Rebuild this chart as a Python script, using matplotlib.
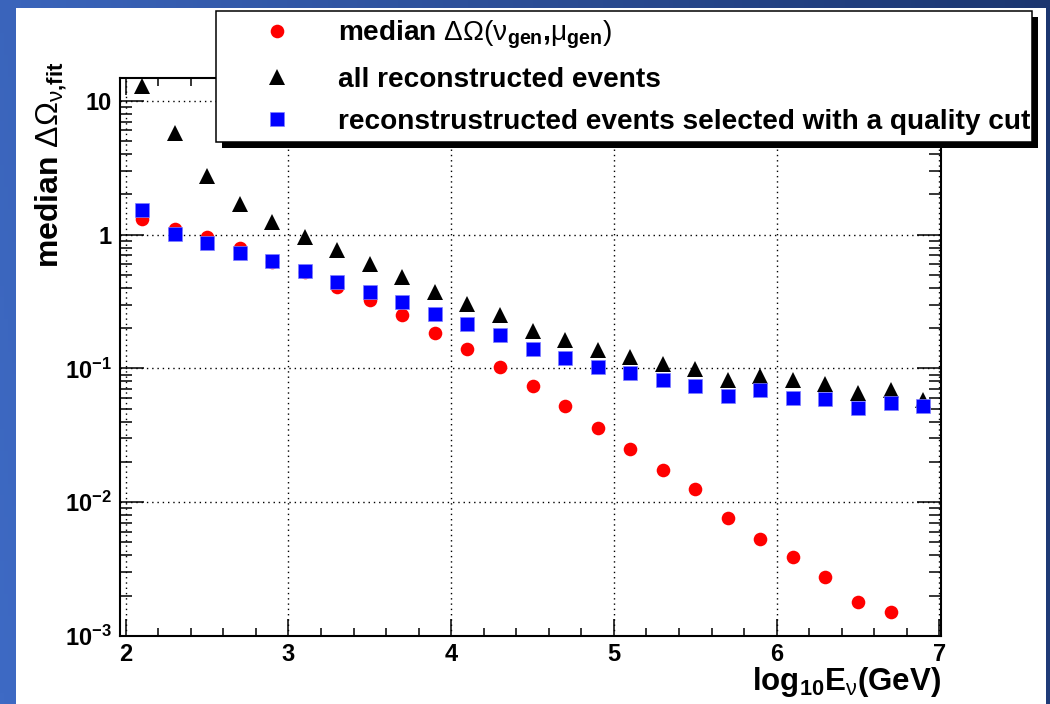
import numpy as np
import matplotlib
matplotlib.use('Agg')
import matplotlib.pyplot as plt
from matplotlib.patches import Rectangle
from matplotlib.ticker import FixedLocator, FixedFormatter, MultipleLocator, LogLocator, NullFormatter
from matplotlib.transforms import IdentityTransform

plt.rcParams['font.family'] = ['Liberation Sans', 'DejaVu Sans']
plt.rcParams['font.weight'] = 'bold'
plt.rcParams['axes.labelweight'] = 'bold'
plt.rcParams['mathtext.fontset'] = 'custom'
plt.rcParams['mathtext.rm'] = 'Liberation Sans:weight=normal'
plt.rcParams['mathtext.bf'] = 'Liberation Sans:weight=bold'
plt.rcParams['mathtext.it'] = 'Liberation Sans:italic:weight=normal'
plt.rcParams['mathtext.default'] = 'bf'

# ---------------- data ----------------
log_energy = [2.1, 2.3, 2.5, 2.7, 2.9, 3.1, 3.3, 3.5, 3.7, 3.9, 4.1, 4.3, 4.5,
              4.7, 4.9, 5.1, 5.3, 5.5, 5.7, 5.9, 6.1, 6.3, 6.5, 6.7, 6.9]

median_gen = [1.31, 1.10, 0.958, 0.793, 0.623, 0.524, 0.405, 0.324, 0.250, 0.184,
              0.140, 0.102, 0.0736, 0.0524, 0.0357, 0.0249, 0.0173, 0.01256,
              0.00758, 0.00528, 0.00387, 0.00274, 0.00179, 0.00151]

all_reco = [12.9, 5.77, 2.74, 1.69, 1.25, 0.963, 0.766, 0.602, 0.481, 0.373,
            0.302, 0.250, 0.190, 0.1625, 0.137, 0.122, 0.1075, 0.0986, 0.0816,
            0.0874, 0.0816, 0.0762, 0.0656, 0.0687, 0.0578]

quality_cut = [1.52, 1.01, 0.864, 0.727, 0.634, 0.533, 0.441, 0.371, 0.313, 0.254,
               0.214, 0.177, 0.139, 0.119, 0.102, 0.092, 0.0816, 0.0736, 0.062,
               0.069, 0.0599, 0.0589, 0.0507, 0.0552, 0.0522]

x_ticks = [2, 3, 4, 5, 6, 7]
x_ticklabels = ['2', '3', '4', '5', '6', '7']
y_ticks = [1e-3, 1e-2, 1e-1, 1, 10]
y_ticklabels = [r'$10^{-3}$', r'$10^{-2}$', r'$10^{-1}$', '1', '10']

labels = [r'median $\mathrm{\Delta\Omega(\nu}_{\mathbf{gen}}{,}\mathrm{\mu}_{\mathbf{gen}}\mathrm{)}$',
          'all reconstructed events',
          'reconstrustructed events selected with a quality cut']

# ---------------- figure ----------------
W, H = 1050, 704
fig = plt.figure(figsize=(W / 100, H / 100), dpi=100)

# slide background (blue gradient frame + white page)
bg = fig.add_axes([0, 0, 1, 1], zorder=-10)
bg.set_axis_off()
gx = np.linspace(0, 1, 256)[None, :]
gy = np.linspace(0, 1, 64)[:, None]
c0 = np.array([62, 106, 196]) / 255.0
c1 = np.array([28, 54, 112]) / 255.0
t = np.clip(gx * 0.9 + (1 - gy) * 0.1, 0, 1)[..., None]
img = c0 * (1 - t) + c1 * t
bg.imshow(img, extent=[0, 1, 0, 1], aspect='auto', origin='upper')
bg.add_patch(Rectangle((16 / W, 0), (1046 - 16) / W, (H - 8) / H,
                       facecolor='white', edgecolor='none'))
bg.set_xlim(0, 1)
bg.set_ylim(0, 1)

ax = fig.add_axes([120 / W, 1 - 636 / H, (941 - 120) / W, (636 - 78) / H])
ax.set_facecolor('white')

ms_c, ms_t, ms_s = 9.8, 11.0, 9.6
l1, = ax.plot(log_energy[:len(median_gen)], median_gen, linestyle='none', marker='o',
              ms=ms_c, mfc='#ff0000', mec='#ff0000', mew=0, zorder=3)
l2, = ax.plot(log_energy, all_reco, linestyle='none', marker='^',
              ms=ms_t, mfc='black', mec='black', mew=0, zorder=3)
l3, = ax.plot(log_energy, quality_cut, linestyle='none', marker='s',
              ms=ms_s, mfc='#0000ff', mec='#7f7fff', mew=0.5, zorder=4)

ax.set_yscale('log')
ax.set_xlim(1.965, 7.01)
ax.set_ylim(1e-3, 14.8)

ax.xaxis.set_major_locator(FixedLocator(x_ticks))
ax.xaxis.set_major_formatter(FixedFormatter(x_ticklabels))
ax.xaxis.set_minor_locator(MultipleLocator(0.2))
ax.yaxis.set_major_locator(FixedLocator(y_ticks))
ax.yaxis.set_major_formatter(FixedFormatter(y_ticklabels))
ax.yaxis.set_minor_locator(LogLocator(base=10, subs=np.arange(2, 10)))
ax.yaxis.set_minor_formatter(NullFormatter())

for s in ax.spines.values():
    s.set_linewidth(1.5)

ax.tick_params(axis='both', which='both', direction='in', top=True, right=True,
               width=1.1, colors='black')
ax.tick_params(axis='x', which='major', length=12.3, labelsize=17, pad=5)
ax.tick_params(axis='x', which='minor', length=6.0)
ax.tick_params(axis='y', which='major', length=17.5, labelsize=17, pad=6)
ax.tick_params(axis='y', which='minor', length=8.6)

ax.grid(True, which='major', color='black', linestyle=(0, (1, 2.8)), linewidth=1.0)
ax.set_axisbelow(False)

ax.set_xlabel(r'log$_{\mathbf{10}}$E$_{\mathrm{\nu}}$(GeV)', fontsize=22.5, loc='right')
ax.xaxis.set_label_coords(1.0, -0.052)
ax.set_ylabel(r'median $\mathrm{\Delta\Omega}_{\mathrm{\nu}{,}\mathbf{fit}}$', fontsize=23, loc='top')
ax.yaxis.set_label_coords(-0.062, 1.03)

leg = fig.legend([l1, l2, l3], labels, loc='upper left',
                 bbox_to_anchor=(216 / W, 0.0, (1032 - 216) / W, 1 - 11 / H),
                 bbox_transform=fig.transFigure, mode='expand', borderaxespad=0,
                 fontsize=20.2, numpoints=1, handlelength=3.78, handletextpad=0.29,
                 borderpad=0.28, labelspacing=0.56, fancybox=False, framealpha=1,
                 edgecolor='black', facecolor='white')
leg.get_frame().set_linewidth(1.1)
leg.set_zorder(10)

fig.canvas.draw()
bb = leg.get_window_extent(fig.canvas.get_renderer())
shadow = Rectangle((bb.x0 + 6, bb.y0 - 6), bb.width, bb.height, transform=IdentityTransform(),
                   facecolor='black', edgecolor='none', zorder=9)
fig.add_artist(shadow)

fig.savefig('out.png', dpi=100)
